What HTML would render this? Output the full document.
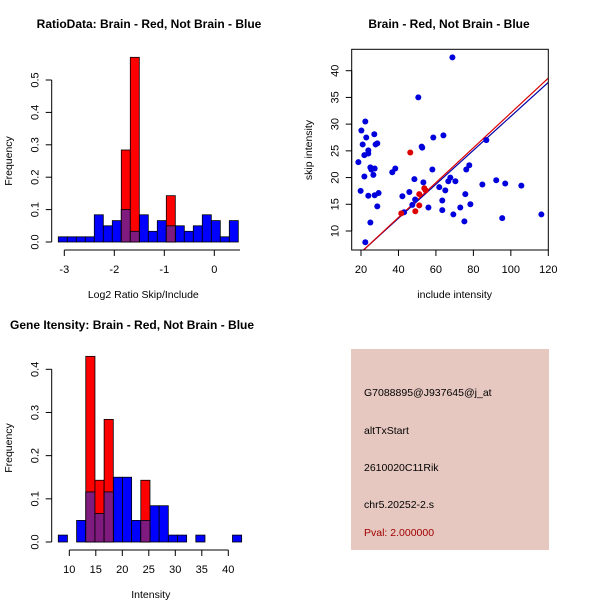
<!DOCTYPE html>
<html><head><meta charset="utf-8"><style>
body{margin:0;background:#fff;width:600px;height:600px;overflow:hidden}
svg text{font-family:"Liberation Sans",sans-serif}
</style></head><body>
<svg id="svg" width="600" height="600" xmlns="http://www.w3.org/2000/svg">
<rect x="0" y="0" width="600" height="600" fill="#fff"/>
<g id="p1"></g>
<g id="p2"></g>
<g id="p3"></g>
<g>
<rect x="351" y="349" width="198" height="201" fill="#e6c8c0"/>
<text x="364" y="396" font-size="10.5">G7088895@J937645@j_at</text>
<text x="364" y="434" font-size="10.5">altTxStart</text>
<text x="364" y="471" font-size="10.5">2610020C11Rik</text>
<text x="364" y="508" font-size="10.5">chr5.20252-2.s</text>
<text x="364" y="536" font-size="10.5" fill="#a00000">Pval: 2.000000</text>
</g>
</svg>
<script>
// ---- data ----
const ratioBinStart=-3.12, ratioBinWidth=0.18;
const ratioBlue=[0.016,0.016,0.016,0.016,0.084,0.05,0.066,0.1,0.033,0.084,0.033,0.066,0.05,0.05,0.033,0.05,0.084,0.066,0.016,0.066];
const ratioRed=[0,0,0,0,0,0,0,0.284,0.57,0,0,0,0.143,0,0,0,0,0,0,0];
const ratioXTicks=[-3,-2,-1,0];
const ratioYTicks=[0,0.1,0.2,0.3,0.4,0.5];
const intBinStart=7.92, intBinWidth=1.73;
const intBlue=[0.016,0,0.05,0.116,0.066,0.116,0.15,0.15,0.05,0.05,0.084,0.084,0.016,0.016,0,0.016,0,0,0,0.016];
const intRed=[0,0,0,0.43,0.143,0.284,0,0,0,0.143,0,0,0,0,0,0,0,0,0,0];
const intXTicks=[10,15,20,25,30,35,40];
const intYTicks=[0,0.1,0.2,0.3,0.4];
const blueX=[18.6,19.8,20.2,20.9,21.8,21.8,22.3,22.3,22.8,23.9,23.9,23.9,25,25,25.5,26.6,27.1,27.3,27.3,27.8,28.7,28.7,29.4,36.7,38.3,42.1,43,45.8,47.4,48.5,48.9,50.6,52.4,52.7,53.3,56,58.1,58.6,61.8,63.4,63.4,64,65,66.6,67.7,68.8,69.3,70.4,73,75.2,75.7,76.2,77.8,78.4,84.8,86.9,92.2,97,95.4,105.6,116.3];
const blueY=[22.9,17.5,28.8,26.2,20.2,24.2,30.5,7.9,27.5,25.1,24.5,16.6,21.9,11.6,21.5,20.5,28.1,21.7,16.7,26.2,26.4,14.6,17.1,21,21.7,16.5,13.5,17.3,14.9,19.7,15.9,35,25.8,25.6,19.1,14.4,21.5,27.5,18.2,15.7,13.9,27.9,17.6,19.3,20,42.5,13.1,19.3,14.4,11.8,16.9,21.5,22.3,15,18.7,27,19.5,18.9,12.4,18.5,13.1];
const redX=[46.3,41.5,49,51.1,51.1,53.8,54.5];
const redY=[24.7,13.3,13.7,16.9,14.8,18,17.6];
const redFit=[-0.51,0.326];
const blueFit=[-0.34,0.318];
const scXTicks=[20,40,60,80,100,120];
const scYTicks=[10,15,20,25,30,35,40];
// ---- helpers ----
const NS="http://www.w3.org/2000/svg";
function mk(parent,tag,attrs,txt){const e=document.createElementNS(NS,tag);for(const k in attrs)e.setAttribute(k,attrs[k]);if(txt!==undefined)e.textContent=txt;parent.appendChild(e);return e;}
function lin(d0,d1,r0,r1){return v=>r0+(v-d0)*(r1-r0)/(d1-d0);}
function axes(g,sx,sy,xt,yt,xAxisY,yAxisX,xlab,title,titleX,titleY,titleAnchor){
  const fmtY=v=>v.toFixed(1);
  const xa=mk(g,'g',{});
  
  mk(xa,'line',{x1:sx(xt[0]),x2:sx(xt[xt.length-1]),y1:xAxisY,y2:xAxisY,stroke:'#000'});
  xt.forEach(t=>{mk(xa,'line',{x1:sx(t),x2:sx(t),y1:xAxisY,y2:xAxisY+6,stroke:'#000'});
    const l=mk(xa,'text',{x:sx(t),y:xAxisY+23,'font-size':11,'text-anchor':'middle'},String(t));
    });
  const ya=mk(g,'g',{});
  
  mk(ya,'line',{x1:yAxisX,x2:yAxisX,y1:sy(yt[0]),y2:sy(yt[yt.length-1]),stroke:'#000'});
  yt.forEach(t=>{mk(ya,'line',{x1:yAxisX,x2:yAxisX-6,y1:sy(t),y2:sy(t),stroke:'#000'});
    const x=yAxisX-13,y=sy(t);
    const l=mk(ya,'text',{x:x,y:y,'font-size':11,'text-anchor':'middle',transform:`rotate(-90 ${x} ${y})`},g.isScatter?String(t):fmtY(t));
    });
  const xl=mk(g,'text',{x:(sx(xt[0])+sx(xt[xt.length-1]))/2+(g.xlabOff||0),y:xAxisY+48,'font-size':10.5,'text-anchor':'middle'},xlab);
  
  const yl=mk(g,'text',{x:g.ylabX,y:g.ylabY,'font-size':10.5,'text-anchor':'middle',transform:`rotate(-90 ${g.ylabX} ${g.ylabY})`},g.ylab);
  
  const tt=mk(g,'text',{x:titleX,y:titleY,'font-size':12,'font-weight':'bold','text-anchor':titleAnchor},title);
  
}
function hist(g,sx,sy,start,w,blue,red){
  blue.forEach((v,i)=>{if(v>0){const r=mk(g,'rect',{x:sx(start+i*w),y:sy(v),width:sx(start+(i+1)*w)-sx(start+i*w),height:sy(0)-sy(v),fill:'#0000ff',stroke:'#000','stroke-width':0.8});
    }});
  red.forEach((v,i)=>{if(v>0){const r=mk(g,'rect',{x:sx(start+i*w),y:sy(v),width:sx(start+(i+1)*w)-sx(start+i*w),height:sy(0)-sy(v),fill:'#ff0000',stroke:'#000','stroke-width':0.8});
    
    const m=Math.min(v,blue[i]);
    if(m>0){const p=mk(g,'rect',{x:sx(start+i*w),y:sy(m),width:sx(start+(i+1)*w)-sx(start+i*w),height:sy(0)-sy(m),fill:'#7f1a7f',stroke:'#000','stroke-width':0.8});
      }}});
}
// ---- panel 1 ----
const g1=document.getElementById('p1');
const sx1=lin(-3,0,64.3,214.3), sy1=lin(0,0.5,242,80);
hist(g1,sx1,sy1,ratioBinStart,ratioBinWidth,ratioBlue,ratioRed);
g1.ylab='Frequency';g1.ylabX=12;g1.ylabY=161;g1.xlabOff=4;
axes(g1,sx1,sy1,ratioXTicks,ratioYTicks,250,51.7,'Log2 Ratio Skip/Include','RatioData: Brain - Red, Not Brain - Blue',149,28,'middle');
mk(g1,'line',{x1:sx1(0),x2:240,y1:250,y2:250,stroke:'#000'});
// ---- panel 3 ----
const g3=document.getElementById('p3');
const sx3=lin(10,40,69.3,228.3), sy3=lin(0,0.4,542,369.3);
hist(g3,sx3,sy3,intBinStart,intBinWidth,intBlue,intRed);
g3.ylab='Frequency';g3.ylabX=12;g3.ylabY=448;g3.xlabOff=2;
axes(g3,sx3,sy3,intXTicks,intYTicks,550,51.7,'Intensity','Gene Itensity: Brain - Red, Not Brain - Blue',10,329,'start');
// ---- panel 2 ----
const g2=document.getElementById('p2');
g2.isScatter=true;
const sx2=lin(20,120,361,548.3), sy2=lin(10,40,231,70.7);
mk(g2,'defs',{}).innerHTML='<clipPath id="clip2"><rect x="351.7" y="49.3" width="196.6" height="200.7"/></clipPath>';
const lg=mk(g2,'g',{'clip-path':'url(#clip2)'});
[[blueFit,'#0000aa'],[redFit,'#dd0000']].forEach(([f,c])=>{
  const l=mk(lg,'line',{x1:sx2(15),y1:sy2(f[0]+f[1]*15),x2:sx2(125),y2:sy2(f[0]+f[1]*125),stroke:c,'stroke-width':1.2});
  });
blueX.forEach((x,i)=>{const c=mk(g2,'circle',{cx:sx2(x),cy:sy2(blueY[i]),r:3,fill:'#0000dd'});
  });
redX.forEach((x,i)=>{const c=mk(g2,'circle',{cx:sx2(x),cy:sy2(redY[i]),r:3,fill:'#dd0000'});
  });
const box=mk(g2,'rect',{x:351.7,y:49.3,width:196.6,height:200.7,fill:'none',stroke:'#000'});

g2.ylab='skip intensity';g2.ylabX=312;g2.ylabY=150;
axes(g2,sx2,sy2,scXTicks,scYTicks,250,351.7,'include intensity','Brain - Red, Not Brain - Blue',449,28,'middle');
</script>
</body></html>
